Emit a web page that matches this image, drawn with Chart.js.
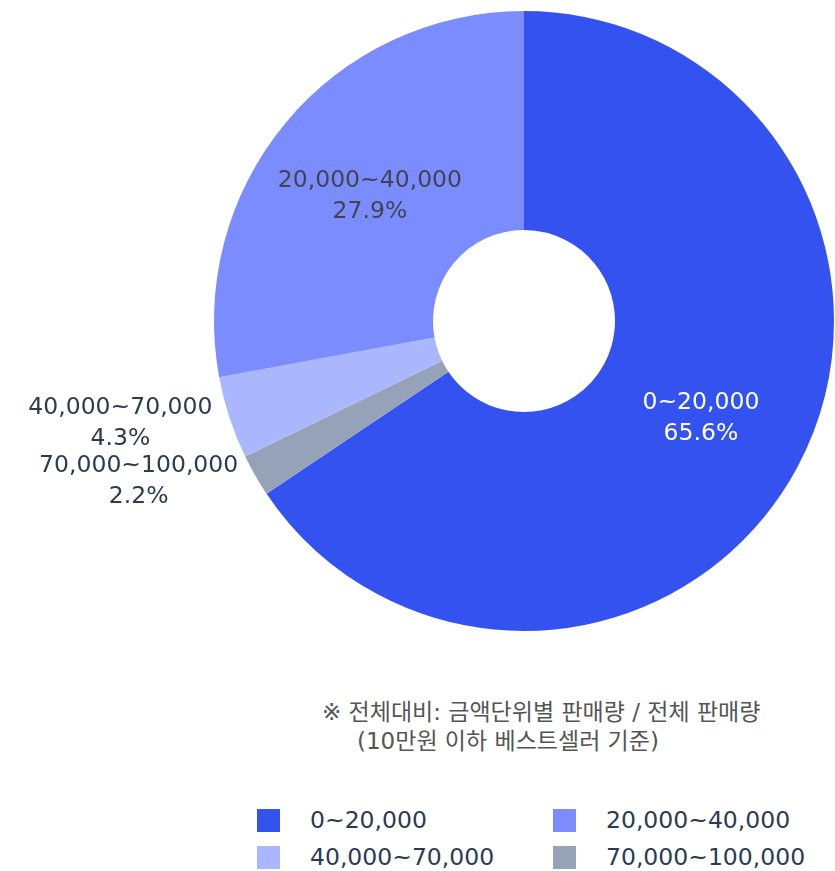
<!DOCTYPE html>
<html lang="ko">
<head>
<meta charset="utf-8">
<title>금액단위별 판매량</title>
<script src="https://cdn.jsdelivr.net/npm/chart.js@4.4.1/dist/chart.umd.min.js"></script>
<style>
  html, body { margin: 0; padding: 0; background: #fff; }
  #wrap { position: relative; width: 835px; height: 871px; overflow: hidden; }
  #box { position: absolute; left: 0; top: 0; width: 835px; height: 660px; }
  .note {
    position: absolute; color: #555; white-space: nowrap;
    font: 23px "DejaVu Sans", "Noto Sans CJK KR", sans-serif; line-height: 29px;
  }
  #legend { position: absolute; left: 257px; top: 806px; width: 578px; }
  .item {
    position: absolute; display: flex; align-items: center;
    font: 23.5px "DejaVu Sans", sans-serif; color: #2c3b54; white-space: nowrap;
  }
  .item i { display: inline-block; width: 23px; height: 23px; margin-right: 30px; }
</style>
</head>
<body>
<div id="wrap">
  <div id="box"><canvas id="grafico"></canvas></div>
  <div class="note" style="left:322px; top:698px">※ 전체대비: 금액단위별 판매량 / 전체 판매량</div>
  <div class="note" style="left:357px; top:727px">(10만원 이하 베스트셀러 기준)</div>
  <div id="legend"></div>
</div>
<script>
// 가격대 (원)
const categories = ['0~20,000', '20,000~40,000', '40,000~70,000', '70,000~100,000'];
// 전체 판매량 대비 비율 (%)
const shares = [65.6, 27.9, 4.3, 2.2];
// 12시 방향부터 시계방향으로 그리는 순서
const sliceOrder = [0, 3, 2, 1];

const colores = ['#3452ef', '#7b8cff', '#aab7ff', '#95a2b7'];
const coloresTexto = ['#ffffff', '#444450', '#2c3b54', '#2c3b54'];

// 조각 안/밖 라벨
const etiquetas = {
    id: 'etiquetas',
    afterDatasetsDraw(chart) {
        const ctx = chart.ctx;
        const meta = chart.getDatasetMeta(0);
        ctx.save();
        ctx.font = '23.5px "DejaVu Sans", sans-serif';
        ctx.textBaseline = 'middle';
        ctx.textAlign = 'center';
        meta.data.forEach((arc, i) => {
            const idx = sliceOrder[i];
            const lines = [categories[idx], shares[idx].toFixed(1) + '%'];
            ctx.fillStyle = coloresTexto[idx];
            let cx, cy;
            if (shares[idx] >= 10) {
                const p = arc.tooltipPosition();
                cx = p.x; cy = p.y + 3.5;
            } else {
                const a = arc.getProps(['x', 'y', 'startAngle', 'endAngle', 'outerRadius'], true);
                const mid = (a.startAngle + a.endAngle) / 2;
                const ex = a.x + Math.cos(mid) * a.outerRadius;
                const ey = a.y + Math.sin(mid) * a.outerRadius;
                const w = Math.max(...lines.map(t => ctx.measureText(t).width));
                cx = ex - 17 - w / 2;
                cy = ey + 6;
            }
            ctx.fillText(lines[0], cx, cy - 15.5);
            ctx.fillText(lines[1], cx, cy + 15.5);
        });
        ctx.restore();
    }
};

let grafica = document.getElementById('grafico').getContext('2d');
let parametros = {
    type: 'doughnut',
    data: {
        labels: sliceOrder.map(i => categories[i]),
        datasets: [
            {
                data: sliceOrder.map(i => shares[i]),
                backgroundColor: sliceOrder.map(i => colores[i]),
                borderWidth: 0
            }
        ]
    },
    options: {
        responsive: true,
        maintainAspectRatio: false,
        animation: false,
        cutout: 91,
        layout: { padding: { left: 214, right: 1, top: 11, bottom: 29 } },
        plugins: {
            legend: { display: false },
            tooltip: { enabled: false }
        }
    },
    plugins: [etiquetas]
};
var torta = new Chart(grafica, parametros);

// 범례 (2열)
const leyenda = document.getElementById('legend');
categories.forEach((c, i) => {
    const el = document.createElement('div');
    el.className = 'item';
    el.style.left = (i % 2) * 296 + 'px';
    el.style.top = Math.floor(i / 2) * 37 + 'px';
    el.innerHTML = '<i style="background:' + colores[i] + '"></i>' + c;
    leyenda.appendChild(el);
});
</script>
</body>
</html>
